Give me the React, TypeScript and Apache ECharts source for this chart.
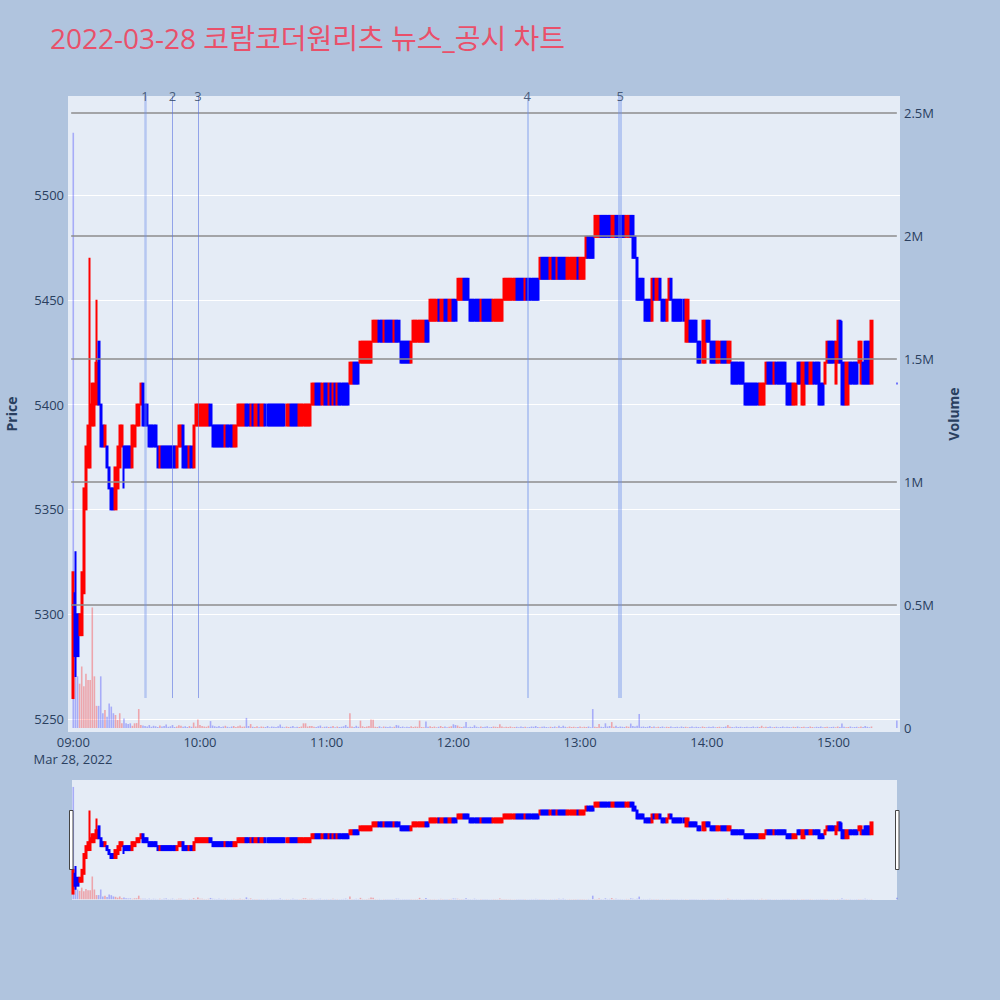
import React, { useEffect, useRef } from "react";
import * as echarts from "echarts";

const TITLE = "2022-03-28 코람코더원리츠 뉴스_공시 차트";
const DATE_LABEL = "Mar 28, 2022";

// Minute candles, grouped by price band.
// [start minute after 09:00, band low, band high, one letter per minute: r = up (red), b = down (blue)]
const bands: [number, number, number, string][] = [
  [0, 5260, 5320, "r"],
  [1, 5280, 5310, "b"],
  [2, 5280, 5300, "b"],
  [3, 5290, 5300, "r"],
  [4, 5290, 5320, "r"],
  [5, 5310, 5360, "r"],
  [6, 5350, 5380, "r"],
  [7, 5370, 5390, "r"],
  [8, 5370, 5400, "r"],
  [9, 5390, 5410, "rr"],
  [11, 5400, 5420, "r"],
  [12, 5400, 5430, "b"],
  [13, 5380, 5400, "b"],
  [14, 5380, 5390, "br"],
  [16, 5370, 5380, "b"],
  [17, 5360, 5370, "b"],
  [18, 5350, 5360, "bb"],
  [20, 5350, 5370, "r"],
  [21, 5360, 5380, "r"],
  [22, 5370, 5390, "r"],
  [23, 5380, 5390, "r"],
  [24, 5370, 5380, "bbbb"],
  [28, 5370, 5390, "r"],
  [29, 5380, 5390, "r"],
  [30, 5390, 5400, "rr"],
  [32, 5400, 5410, "r"],
  [33, 5390, 5410, "b"],
  [34, 5390, 5400, "bb"],
  [36, 5380, 5390, "bbbb"],
  [40, 5370, 5380, "brbbbbbbbr"],
  [50, 5380, 5390, "rr"],
  [52, 5370, 5390, "b"],
  [53, 5370, 5380, "bbrb"],
  [57, 5370, 5390, "r"],
  [58, 5390, 5400, "rrrrrrrb"],
  [66, 5380, 5390, "bbbbbbrbbbrr"],
  [78, 5390, 5400, "rrrrbbrbrrbrrbbbbbbbbbbrrbbbbrrrrrr"],
  [113, 5400, 5410, "rrbbbrbbrbrbrbbbbb"],
  [131, 5410, 5420, "rrbbb"],
  [136, 5420, 5430, "rrrrrr"],
  [142, 5430, 5440, "rrrbbrbbbbrbb"],
  [155, 5420, 5430, "bbbbbr"],
  [161, 5430, 5440, "rrrrrrbb"],
  [169, 5440, 5450, "rrrrbrrbbrrbb"],
  [182, 5450, 5460, "rrrbbb"],
  [188, 5440, 5450, "bbbbbrbbbbbrrrrr"],
  [204, 5450, 5460, "rrrrrrbbbbrbbbbbb"],
  [221, 5460, 5470, "rbbbbrbbrbbbbrrrrrbrrr"],
  [243, 5470, 5480, "rbbb"],
  [247, 5480, 5490, "rrrbbbbbrrbbbbbrrb"],
  [265, 5470, 5490, "b"],
  [266, 5470, 5480, "b"],
  [267, 5450, 5470, "b"],
  [268, 5450, 5460, "bbb"],
  [271, 5440, 5450, "bbb"],
  [274, 5440, 5460, "r"],
  [275, 5450, 5460, "brrb"],
  [279, 5440, 5450, "bbr"],
  [282, 5450, 5460, "rb"],
  [284, 5440, 5450, "bbbbbb"],
  [290, 5430, 5450, "rr"],
  [292, 5430, 5440, "bbbb"],
  [296, 5420, 5430, "bb"],
  [298, 5420, 5440, "rr"],
  [300, 5430, 5440, "bb"],
  [302, 5420, 5430, "bbbrrbbbrr"],
  [312, 5410, 5420, "bbbbbb"],
  [318, 5400, 5410, "bbbbbbbrrr"],
  [328, 5410, 5420, "rbbbrbbbbb"],
  [338, 5400, 5410, "bbbrr"],
  [343, 5410, 5420, "bb"],
  [345, 5400, 5420, "rr"],
  [347, 5410, 5420, "bbrrbb"],
  [353, 5400, 5420, "b"],
  [354, 5400, 5410, "bb"],
  [356, 5410, 5420, "r"],
  [357, 5420, 5430, "rbbb"],
  [361, 5410, 5430, "r"],
  [362, 5420, 5440, "rb"],
  [364, 5400, 5420, "bbrr"],
  [368, 5410, 5420, "bbbb"],
  [372, 5420, 5430, "r"],
  [373, 5410, 5430, "r"],
  [374, 5410, 5420, "b"],
  [375, 5410, 5430, "bbb"],
  [378, 5410, 5440, "r"],
  [390, 5410, 5410, "b"],
];

// Candles whose wicks reach beyond the band: [minute, low, high]
const wicks: [number, number, number][] = [
  [1, 5270, 5330],
  [8, 5370, 5470],
  [11, 5400, 5450],
  [24, 5360, 5380],
  [364, 5400, 5440],
];

// Volume per minute in thousands of shares, 09:00 .. 15:18
const volumesK: number[] = [
  2420, 300, 210, 180, 250, 170, 220, 195, 195, 490,
  210, 90, 90, 210, 60, 73, 46, 100, 87, 60,
  53, 33, 60, 19, 39, 19, 16, 19, 9, 19,
  20, 77, 12, 10, 8, 6, 12, 5, 9, 7,
  4, 10, 6, 8, 14, 5, 7, 12, 4, 6,
  11, 9, 5, 7, 4, 8, 5, 22, 6, 35,
  12, 8, 6, 5, 9, 28, 10, 7, 5, 8,
  4, 6, 9, 5, 3, 6, 8, 4, 7, 10,
  5, 6, 41, 8, 16, 5, 4, 7, 3, 6,
  5, 4, 8, 3, 6, 5, 4, 7, 14, 5,
  3, 6, 4, 5, 8, 3, 5, 4, 6, 19,
  19, 6, 8, 8, 5, 4, 7, 10, 3, 5,
  6, 4, 5, 8, 3, 6, 4, 5, 7, 12,
  5, 60, 6, 4, 9, 5, 30, 7, 4, 6,
  8, 35, 33, 5, 4, 7, 3, 6, 5, 4,
  6, 3, 5, 12, 10, 4, 6, 3, 5, 4,
  7, 4, 6, 5, 30, 4, 3, 26, 5, 7,
  4, 6, 3, 5, 8, 4, 6, 3, 5, 7,
  15, 12, 10, 5, 4, 6, 24, 3, 5, 4,
  11, 5, 3, 6, 4, 5, 7, 3, 4, 6,
  5, 4, 15, 6, 3, 5, 4, 6, 3, 4,
  5, 3, 6, 4, 5, 3, 4, 6, 5, 8,
  4, 3, 5, 6, 4, 3, 5, 4, 6, 3,
  9, 4, 9, 5, 3, 6, 4, 5, 3, 4,
  6, 3, 5, 4, 6, 3, 77, 5, 4, 16,
  5, 4, 19, 6, 8, 24, 5, 9, 4, 6,
  5, 4, 7, 5, 18, 8, 6, 9, 57, 5,
  6, 4, 5, 8, 4, 6, 3, 5, 4, 6,
  3, 5, 4, 6, 3, 4, 5, 3, 6, 4,
  5, 3, 4, 6, 3, 5, 4, 3, 6, 4,
  3, 5, 4, 6, 3, 4, 5, 3, 4, 6,
  12, 5, 4, 3, 6, 4, 5, 3, 4, 5,
  3, 4, 6, 3, 5, 4, 9, 3, 5, 4,
  6, 3, 4, 5, 3, 4, 6, 3, 5, 4,
  3, 5, 4, 6, 3, 4, 5, 3, 4, 6,
  4, 3, 5, 4, 6, 3, 4, 5, 3, 4,
  5, 3, 6, 4, 18, 5, 3, 4, 6, 3,
  4, 5, 3, 6, 4, 8, 5, 3, 6,
];
const closingVolumeK = 30; // 15:30 closing auction
const closingMinute = 390;

// News / disclosure markers
const newsTimes = ["09:34", "09:47", "09:59", "12:35", "13:19"];
const newsLabels = ["1", "2", "3", "4", "5"];
const newsWidths = [2.5, 1, 1, 2, 4];

// Volume reference lines (right axis ticks)
const volumeTicks = [500000, 1000000, 1500000, 2000000, 2500000];

// Axis ranges
const PRICE_MIN = 5243.8;
const PRICE_MAX = 5547.2;
const VOL_MIN = -16300;
const VOL_MAX = 2569000;
const NEWS_LINE_BOTTOM = 5260;

const FIRST_MIN = -2;
const LAST_MIN = 391;

const pad = (n: number) => (n < 10 ? "0" + n : "" + n);

export default function App() {
  const ref = useRef<HTMLDivElement>(null);

  useEffect(() => {
    if (!ref.current) return;
    const chart = echarts.init(ref.current, undefined, { renderer: "svg" });

    const cats: string[] = [];
    for (let m = FIRST_MIN; m <= LAST_MIN; m++) {
      const t = 540 + m;
      cats.push(pad(Math.floor(t / 60)) + ":" + pad(t % 60));
    }
    const idx = (m: number) => m - FIRST_MIN;

    const candles: any[] = cats.map(() => "-");
    const dirAt: Record<number, string> = {};
    bands.forEach(([start, lo, hi, dirs]) => {
      for (let k = 0; k < dirs.length; k++) {
        const m = start + k;
        const d = dirs[k];
        dirAt[m] = d;
        candles[idx(m)] = d === "r" ? [lo, hi, lo, hi] : [hi, lo, lo, hi];
      }
    });
    wicks.forEach(([m, l, h]) => {
      const c = candles[idx(m)];
      if (Array.isArray(c)) {
        c[2] = l;
        c[3] = h;
      }
    });
    const cl = candles[idx(closingMinute)];
    candles[idx(closingMinute)] = {
      value: cl,
      itemStyle: { color: "#0000ff", borderColor: "#0000ff", borderColorDoji: "#0000ff" },
    };

    const RED_V = "rgba(255,0,0,0.3)";
    const BLUE_V = "rgba(0,0,255,0.27)";
    const vols: any[] = cats.map(() => "-");
    volumesK.forEach((v, m) => {
      const d = m === 0 ? "b" : dirAt[m];
      vols[idx(m)] = { value: v * 1000, itemStyle: { color: d === "r" ? RED_V : BLUE_V } };
    });
    vols[idx(closingMinute)] = { value: closingVolumeK * 1000, itemStyle: { color: BLUE_V } };

    const newsIdx = newsTimes.map((t) => cats.indexOf(t));

    const font = '"Open Sans", "Noto Sans CJK KR", sans-serif';
    const txt = "#2a3f5f";

    const candleStyle = {
      color: "#ff0000",
      color0: "#0000ff",
      borderColor: "#ff0000",
      borderColor0: "#0000ff",
      borderWidth: 2,
    };

    const option: any = {
      animation: false,
      backgroundColor: "#b0c4de",
      textStyle: { fontFamily: font },
      title: {
        text: TITLE,
        left: 45,
        top: 19,
        textStyle: { color: "#e9506a", fontSize: 28, fontWeight: "normal", fontFamily: font },
      },
      grid: [
        {
          left: 68, top: 96, width: 832, height: 636, show: true, backgroundColor: "#e5ecf6",
          borderWidth: 0, containLabel: false, outerBoundsMode: "none",
        },
        { left: 68, top: 780, width: 832, height: 120, show: false, containLabel: false, outerBoundsMode: "none" },
      ],
      xAxis: [
        {
          type: "category",
          gridIndex: 0,
          data: cats,
          boundaryGap: true,
          axisLine: { show: false },
          axisTick: { show: false },
          splitLine: { show: false },
          axisLabel: {
            interval: (_i: number, v: string) => v.endsWith(":00"),
            color: txt,
            fontSize: 13,
            margin: 3,
          },
        },
        {
          type: "category",
          gridIndex: 1,
          data: cats,
          boundaryGap: true,
          show: false,
        },
      ],
      yAxis: [
        {
          type: "value",
          gridIndex: 0,
          min: PRICE_MIN,
          max: PRICE_MAX,
          splitNumber: 6,
          position: "left",
          axisLine: { show: false },
          axisTick: { show: false },
          axisLabel: {
            color: txt, fontSize: 13, margin: 4, showMinLabel: false, showMaxLabel: false,
            formatter: (v: number) => String(v),
          },
          splitLine: { show: true, showMinLine: false, showMaxLine: false, lineStyle: { color: "#ffffff", width: 1 } },
          name: "Price",
          nameLocation: "middle",
          nameGap: 50,
          nameTextStyle: { color: txt, fontSize: 14, fontWeight: "bold" },
        },
        {
          type: "value",
          gridIndex: 0,
          min: VOL_MIN,
          max: VOL_MAX,
          splitNumber: 5,
          position: "right",
          axisLine: { show: false },
          axisTick: { show: false },
          axisLabel: {
            color: txt,
            fontSize: 13,
            margin: 4,
            showMinLabel: false,
            showMaxLabel: false,
            formatter: (v: number) => (v === 0 ? "0" : v / 1e6 + "M"),
          },
          splitLine: { show: false },
          name: "Volume",
          nameLocation: "middle",
          nameGap: 46,
          nameTextStyle: { color: txt, fontSize: 14, fontWeight: "bold" },
        },
        { type: "value", gridIndex: 1, min: PRICE_MIN, max: PRICE_MAX, show: false, splitLine: { show: false } },
        { type: "value", gridIndex: 1, min: VOL_MIN, max: VOL_MAX, show: false, splitLine: { show: false } },
      ],
      series: [
        {
          type: "bar",
          xAxisIndex: 0,
          yAxisIndex: 1,
          data: vols,
          barWidth: 1.6,
          silent: true,
          z: 1,
          markLine: {
            silent: true,
            symbol: ["none", "none"],
            label: { show: false },
            lineStyle: { type: "solid", color: "#8c8c8c", width: 1.5 },
            data: volumeTicks.map((v) => [
              { coord: [idx(0) - 0.6, v] },
              { coord: [idx(closingMinute) + 0.3, v] },
            ]),
          },
        },
        {
          type: "candlestick",
          xAxisIndex: 0,
          yAxisIndex: 0,
          data: candles,
          barWidth: 1.6,
          itemStyle: candleStyle,
          silent: true,
          markLine: {
            silent: true,
            symbol: ["none", "none"],
            label: { show: false },
            z: 10,
            data: newsIdx.map((ix, i) => [
              {
                coord: [ix, NEWS_LINE_BOTTOM],
                lineStyle: {
                  type: "solid",
                  width: newsWidths[i],
                  color: newsWidths[i] > 1.5 ? "rgba(110,145,235,0.4)" : "rgba(90,115,225,0.6)",
                },
              },
              { coord: [ix, PRICE_MAX] },
            ]),
          },
        },
        {
          type: "scatter",
          xAxisIndex: 0,
          yAxisIndex: 0,
          symbolSize: 1,
          itemStyle: { color: "rgba(0,0,0,0)" },
          silent: true,
          z: 11,
          data: newsIdx.map((ix, i) => ({ value: [ix, PRICE_MAX], name: newsLabels[i] })),
          label: { show: true, position: "inside", formatter: "{b}", color: txt, fontSize: 13 },
        },
        {
          type: "bar",
          xAxisIndex: 1,
          yAxisIndex: 3,
          data: vols,
          barWidth: 1.6,
          silent: true,
        },
        {
          type: "candlestick",
          xAxisIndex: 1,
          yAxisIndex: 2,
          data: candles,
          barWidth: 1.6,
          itemStyle: candleStyle,
          silent: true,
        },
      ],
      graphic: [
        {
          type: "rect",
          z: -10,
          shape: { x: 72, y: 780, width: 825, height: 120 },
          style: { fill: "#e5ecf6" },
          silent: true,
        },
        {
          type: "rect",
          z: 100,
          shape: { x: 69.5, y: 810.5, width: 3.5, height: 59 },
          style: { fill: "#ffffff", stroke: "#444444", lineWidth: 1 },
          silent: true,
        },
        {
          type: "rect",
          z: 100,
          shape: { x: 895.5, y: 810.5, width: 3.5, height: 59 },
          style: { fill: "#ffffff", stroke: "#444444", lineWidth: 1 },
          silent: true,
        },
        {
          type: "text",
          z: 100,
          style: {
            text: DATE_LABEL,
            x: 73,
            y: 759,
            align: "center",
            verticalAlign: "middle",
            fill: txt,
            fontSize: 13,
            fontFamily: font,
          },
          silent: true,
        },
      ],
    };

    chart.setOption(option);
    return () => chart.dispose();
  }, []);

  return (
    <div
      ref={ref}
      style={{ position: "absolute", left: 0, top: 0, width: 1000, height: 1000 }}
    />
  );
}
